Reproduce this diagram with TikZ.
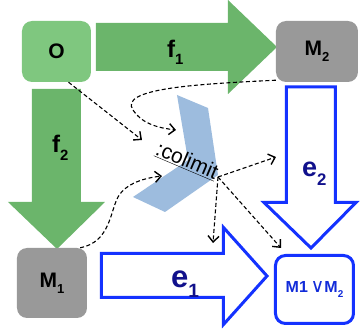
\documentclass[tikz,border=0pt]{standalone}
\usepackage{fontspec}
\setmainfont{Liberation Sans}
\newfontfamily\djv{DejaVu Sans}
\usetikzlibrary{arrows.meta}
\definecolor{lgreen}{RGB}{127,199,127}
\definecolor{agreen}{RGB}{107,181,107}
\definecolor{mgray}{RGB}{153,153,153}
\definecolor{eblue}{RGB}{20,50,255}
\definecolor{navy}{RGB}{17,17,140}
\definecolor{cblue}{RGB}{157,188,222}
\newcommand{\dsub}[1]{\raisebox{-0.3em}{\scalebox{0.62}{#1}}}
\begin{document}
\begin{tikzpicture}[x=1pt,y=-1pt,
  box/.style={rounded corners=10pt, inner sep=0pt, font=\fontsize{21}{21}\selectfont\bfseries},
  bigarrow/.style={fill=agreen},
  outarrow/.style={draw=eblue, line width=3pt, line join=miter, fill=white},
  dcon/.style={line width=1.1pt, dash pattern=on 4pt off 2.5pt, -{Straight Barb[length=6pt,width=11pt,line width=1.4pt]}},
  lab/.style={inner sep=0pt, font=\fontsize{24}{24}\selectfont\bfseries}]
\useasboundingbox (0,0) rectangle (360,332);
% colimit shape
\fill[cblue] (177,95) -- (208,108) -- (218,175) -- (165,212) -- (133,197) -- (188,160) -- cycle;
% big arrows
\fill[bigarrow] (96,23) -- (228,23) -- (228,0) -- (277,47) -- (228,94) -- (228,71) -- (96,71) -- cycle;
\fill[bigarrow] (32,89) -- (81,89) -- (81,202) -- (105,202) -- (57,249) -- (8,202) -- (32,202) -- cycle;
\draw[outarrow] (286.5,87) -- (335.5,87) -- (335.5,202.5) -- (356,202.5) -- (311,248) -- (264,202.5) -- (286.5,202.5) -- cycle;
\draw[outarrow] (101.5,253.5) -- (223.5,253.5) -- (223.5,227.5) -- (267,276) -- (223.5,324.5) -- (223.5,297.5) -- (101.5,297.5) -- cycle;
% nodes
\node[box, fill=lgreen, minimum width=69pt, minimum height=61pt] (O) at (56.5,51.5) {O};
\node[box, fill=mgray, minimum width=82pt, minimum height=61pt] (M2) at (317,51.5) {M\dsub{2}};
\node[box, fill=mgray, minimum width=70pt, minimum height=70pt] (M1) at (52,283) {M\dsub{1}};
\node[box, draw=eblue, line width=3pt, fill=white, minimum width=78pt, minimum height=68pt, text=eblue!85!black, font=\fontsize{16}{16}\selectfont\bfseries] (J) at (314.5,289.5) {M1\,{\djv\mdseries\fontsize{19}{19}\selectfont ∨}M\dsub{2}};
% labels
\node[lab, anchor=base west] (f1) at (167,57) {f\dsub{1}};
\node[lab, anchor=base west] (f2) at (52,153) {f\dsub{2}};
\node[lab, anchor=base west, text=navy, font=\fontsize{31}{31}\selectfont\bfseries] (e1) at (171,288) {e\dsub{1}};
\node[lab, anchor=base west, text=navy, font=\fontsize{27}{27}\selectfont\bfseries] (e2) at (302,177) {e\dsub{2}};
\node[rotate=-23, inner sep=0pt, font=\fontsize{21}{21}\selectfont] (cl) at (187,161) {\underline{:colimit}};
% connector coordinates
\coordinate (cx) at (218,177);
\coordinate (t1) at (142,140);
\coordinate (t2) at (176,130);
\coordinate (t3) at (162,176);
\coordinate (t4) at (276,157);
\coordinate (t5) at (213,243);
\coordinate (t6) at (281,248);
% connectors
\draw[dcon] ([xshift=12pt]O.south) -- (t1);
\draw[dcon] ([yshift=2pt]M2.south west) .. controls (200,84) and (118,88) .. (133,110) .. controls (143,125) and (160,128) .. (t2);
\draw[dcon] ([xshift=-7pt]M1.north east) .. controls (110,242) and (110,212) .. (118,197) .. controls (126,183) and (145,178) .. (t3);
\draw[dcon] (cx) -- (t4);
\draw[dcon] (cx) -- (t5);
\draw[dcon] (cx) -- (t6);
\end{tikzpicture}
\end{document}
